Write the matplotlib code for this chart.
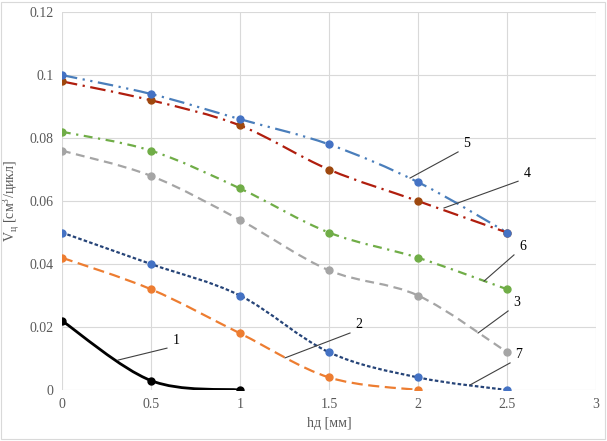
import numpy as np
import matplotlib
matplotlib.use("Agg")
import matplotlib.pyplot as plt
from matplotlib.path import Path
from matplotlib.patches import PathPatch, Rectangle

plt.rcParams['font.family'] = ['Liberation Serif', 'DejaVu Serif']
plt.rcParams['mathtext.fontset'] = 'custom'
plt.rcParams['mathtext.rm'] = 'Liberation Serif'

x_all = [0, 0.5, 1, 1.5, 2, 2.5]
s1 = [0.022, 0.003, 0.0]
s2 = [0.042, 0.032, 0.018, 0.004, 0.0]
s7 = [0.050, 0.040, 0.030, 0.012, 0.004, 0.0]
s3 = [0.076, 0.068, 0.054, 0.038, 0.030, 0.012]
s6 = [0.082, 0.076, 0.064, 0.050, 0.042, 0.032]
s4 = [0.098, 0.092, 0.084, 0.070, 0.060, 0.050]
s5 = [0.100, 0.094, 0.086, 0.078, 0.066, 0.050]

xticks = [0, 0.5, 1, 1.5, 2, 2.5, 3]
xticklabels = ['0', '0.5', '1', '1.5', '2', '2.5', '3']
yticks = [0, 0.02, 0.04, 0.06, 0.08, 0.1, 0.12]
yticklabels = ['0', '0.02', '0.04', '0.06', '0.08', '0.1', '0.12']

labels = ['1', '2', '5', '4', '6', '3', '7']
label_tip = [(0.315, 0.0095), (1.253, 0.0102), (1.955, 0.0673), (2.146, 0.0578),
             (2.371, 0.0346), (2.337, 0.0181), (2.292, 0.0016)]
label_end = [(0.59, 0.0133), (1.618, 0.0181), (2.225, 0.0756), (2.562, 0.0663),
             (2.539, 0.0429), (2.506, 0.0251), (2.517, 0.0086)]

fig = plt.figure(figsize=(6.07, 4.41), dpi=100)
ax = fig.add_axes([0.102, 0.1156, 0.88, 0.857])
fig.patches.append(Rectangle((0.002, 0.004), 0.995, 0.992, transform=fig.transFigure,
                             fill=False, edgecolor='#d9d9d9', lw=0.8))


def smooth_path(xs, ys, t=0.5):
    xs = np.asarray(xs, float)
    ys = np.asarray(ys, float)
    n = len(xs)
    verts = [(xs[0], ys[0])]
    codes = [Path.MOVETO]
    for i in range(n - 1):
        p0 = np.array([xs[max(i - 1, 0)], ys[max(i - 1, 0)]])
        p1 = np.array([xs[i], ys[i]])
        p2 = np.array([xs[i + 1], ys[i + 1]])
        p3 = np.array([xs[min(i + 2, n - 1)], ys[min(i + 2, n - 1)]])
        c1 = p1 + (p2 - p0) * t / 3
        c2 = p2 - (p3 - p1) * t / 3
        verts += [tuple(c1), tuple(c2), tuple(p2)]
        codes += [Path.CURVE4] * 3
    return Path(verts, codes)


series = [
    (s5, '#4a7ebb', '#4472c4', (7, 2.5, 1, 2.5, 1, 2.5), 10),
    (s4, '#b01e0e', '#9e480e', (7, 2.5, 1, 2.5), 9),
    (s6, '#70ad47', '#70ad47', (4, 2.5, 1, 2.5), 8),
    (s3, '#a5a5a5', '#a5a5a5', (4, 2.5), 7),
    (s7, '#264478', '#4472c4', (1.6, 1.0), 6),
    (s2, '#ed7d31', '#ed7d31', (5, 2.5), 5),
    (s1, '#000000', '#000000', None, 4),
]

for ys, lc, mc, dash, z in series:
    xs = x_all[:len(ys)]
    if dash is None:
        patch = PathPatch(smooth_path(xs, ys), facecolor='none', edgecolor=lc, lw=2.0,
                          capstyle='butt', zorder=3)
    else:
        patch = PathPatch(smooth_path(xs, ys), facecolor='none', edgecolor=lc, lw=1.6,
                          linestyle=(0, dash), capstyle='butt', zorder=3)
    ax.add_patch(patch)
    ax.plot(xs, ys, linestyle='none', marker='o', markersize=5, color=mc, zorder=z)

for lab, tip, end in zip(labels, label_tip, label_end):
    ax.plot([tip[0], end[0]], [tip[1], end[1]], color='#404040', lw=0.8, zorder=12)
    ax.text(end[0] + 0.03, end[1] + 0.0005, lab, fontsize=10, ha='left', va='bottom',
            color='#000000', zorder=13)

ax.set_xlim(0, 3)
ax.set_ylim(0, 0.12)
ax.set_xticks(xticks)
ax.set_xticklabels(xticklabels)
ax.set_yticks(yticks)
ax.set_yticklabels(yticklabels)
ax.tick_params(length=0, labelsize=10, colors='#595959', pad=6)
ax.grid(True, color='#d9d9d9', lw=0.8)
ax.set_axisbelow(True)
for sp in ax.spines.values():
    sp.set_visible(False)

ax.set_xlabel('hд [мм]', fontsize=10, color='#595959', labelpad=4)
ax.set_ylabel(r'V$_\mathregular{ц}$ [см$^\mathregular{3}$/цикл]', fontsize=10,
              color='#595959', labelpad=6)

fig.savefig('out.png', dpi=100)
